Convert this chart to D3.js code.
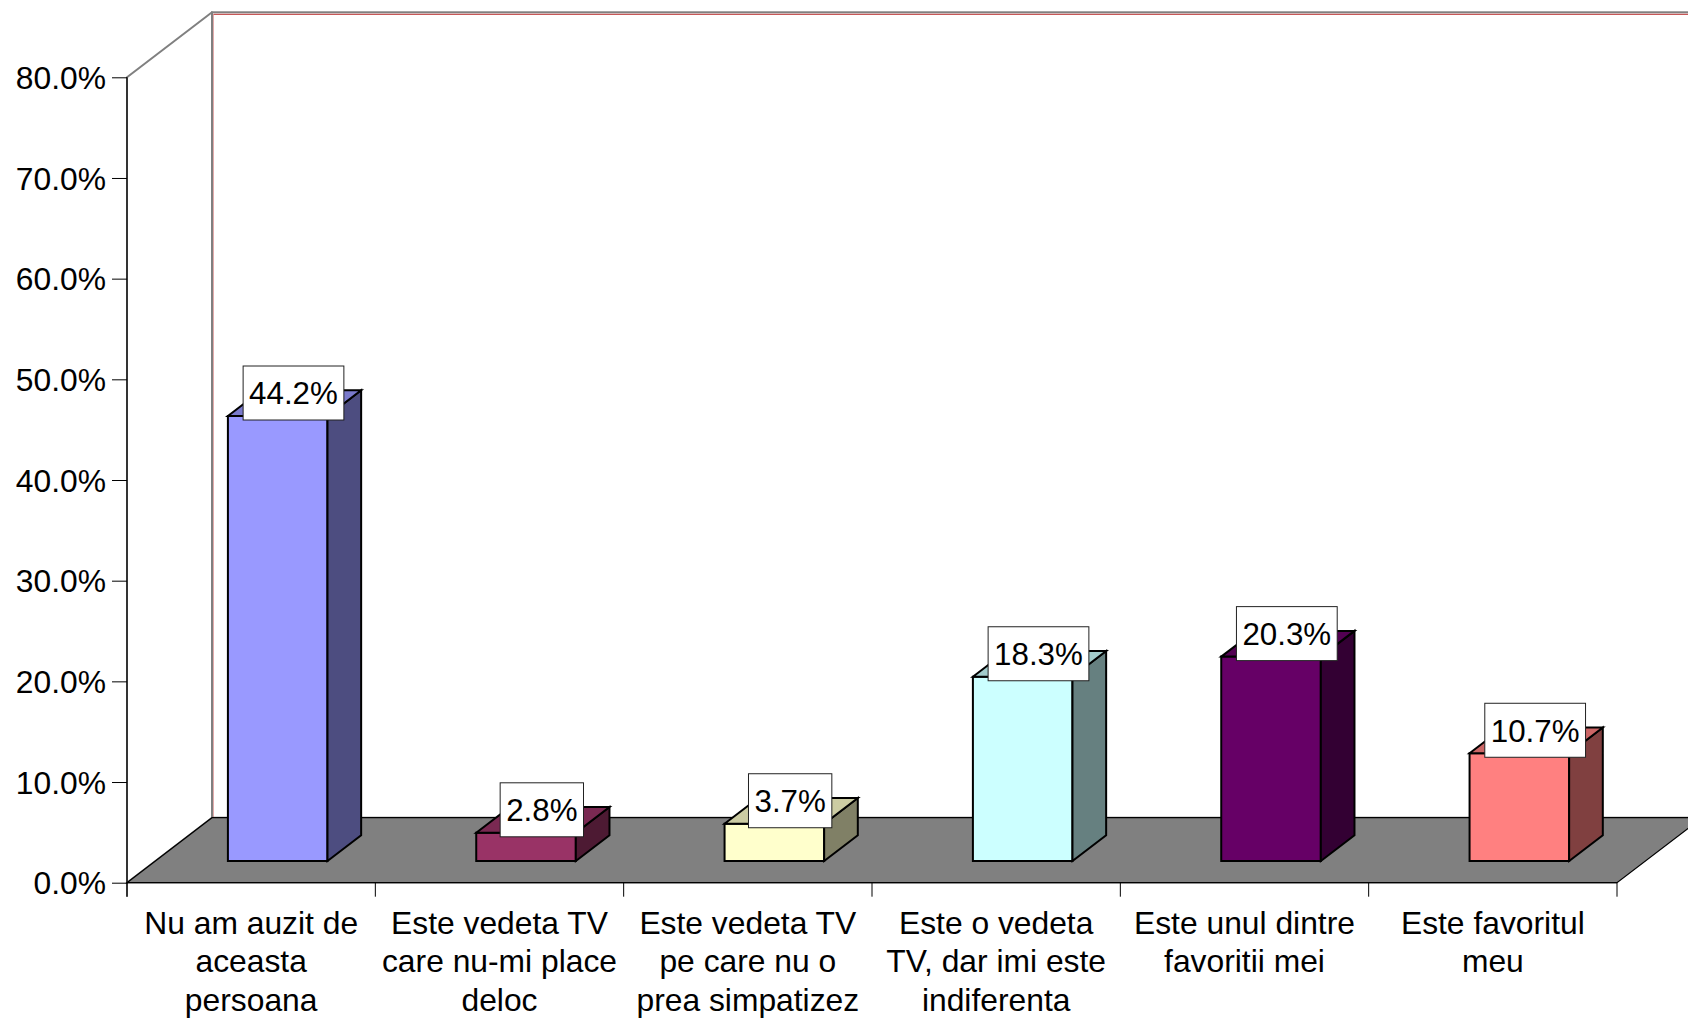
<!DOCTYPE html>
<html>
<head>
<meta charset="utf-8">
<script src="https://cdn.jsdelivr.net/npm/d3@7"></script>
<style>
  html, body { margin: 0; padding: 0; background: #ffffff; }
  svg { display: block; }
  text { font-family: "Liberation Sans", Arial, sans-serif; fill: #000; }
</style>
</head>
<body>
<svg id="chart" width="1688" height="1020"></svg>
<script>
// Survey answers and their shares (percent)
const categories = [
  "Nu am auzit de aceasta persoana",
  "Este vedeta TV care nu-mi place deloc",
  "Este vedeta TV pe care nu o prea simpatizez",
  "Este o vedeta TV, dar imi este indiferenta",
  "Este unul dintre favoritii mei",
  "Este favoritul meu"
];
const categoryLines = [
  ["Nu am auzit de", "aceasta", "persoana"],
  ["Este vedeta TV", "care nu-mi place", "deloc"],
  ["Este vedeta TV", "pe care nu o", "prea simpatizez"],
  ["Este o vedeta", "TV, dar imi este", "indiferenta"],
  ["Este unul dintre", "favoritii mei"],
  ["Este favoritul", "meu"]
];
const values = [44.2, 2.8, 3.7, 18.3, 20.3, 10.7];
const yTicks = [0, 10, 20, 30, 40, 50, 60, 70, 80];
const barColors = ["#9999FF", "#993366", "#FFFFCC", "#CCFFFF", "#660066", "#FF8080"];

const svg = d3.select("#chart");
const AXIS_FONT = 31.8;
const LABEL_FONT = 31.3;

// Front plane of the plot and the oblique depth offset
const X0 = 127, X1 = 1617, Y0 = 882.7, YTOP = 77.3;
const DX = 85, DY = 65;
const P = (px, py, z) => [px + z * DX, py - z * DY];

const x = d3.scaleBand().domain(categories).range([X0, X1]).padding(0);
const y = d3.scaleLinear().domain([0, 80]).range([Y0, YTOP]);
const bw = x.bandwidth();

const poly = pts => "M" + pts.map(p => p[0] + "," + p[1]).join("L") + "Z";

// Back wall
const wallTL = P(X0, YTOP, 1), wallBL = P(X0, Y0, 1);
svg.append("rect")
  .attr("x", wallTL[0]).attr("y", wallTL[1])
  .attr("width", 1700 - wallTL[0]).attr("height", wallBL[1] - wallTL[1])
  .attr("fill", "#fff").attr("stroke", "#808080").attr("stroke-width", 2);
svg.append("line")
  .attr("x1", wallTL[0] + 1.5).attr("x2", wallTL[0] + 1.5)
  .attr("y1", wallTL[1] + 2).attr("y2", wallBL[1])
  .attr("stroke", "#C04545").attr("stroke-width", 1).attr("stroke-opacity", 0.45);
svg.append("line")
  .attr("x1", wallTL[0] + 1.5).attr("x2", 1700)
  .attr("y1", wallTL[1] + 2).attr("y2", wallTL[1] + 2)
  .attr("stroke", "#C04545").attr("stroke-width", 1.2).attr("stroke-opacity", 0.9);

// Side wall
svg.append("path")
  .attr("d", poly([[X0, YTOP], wallTL, wallBL, [X0, Y0]]))
  .attr("fill", "#fff").attr("stroke", "#808080").attr("stroke-width", 2)
  .attr("stroke-linejoin", "round");

// Floor
svg.append("path")
  .attr("d", poly([[X0, Y0], [X1, Y0], P(X1, Y0, 1), P(X0, Y0, 1)]))
  .attr("fill", "#808080").attr("stroke", "#000").attr("stroke-width", 1.2);

// Bars as oblique boxes
const Z0 = 0.334, Z1 = 0.73;
const shade = (c, k) => { const r = d3.rgb(c); return d3.rgb(r.r * k, r.g * k, r.b * k).formatHex(); };

const bars = svg.append("g").selectAll("g")
  .data(categories.map((c, i) => ({ c, v: values[i], color: barColors[i] })))
  .join("g");

bars.each(function (d) {
  const g = d3.select(this);
  const xl = x(d.c) + 0.292 * bw, xr = xl + 0.401 * bw;
  const yb = y(0), yt = y(d.v);
  const face = (pts, fill) => g.append("path").attr("d", poly(pts))
    .attr("fill", fill).attr("stroke", "#000").attr("stroke-width", 2)
    .attr("stroke-linejoin", "miter");
  face([P(xl, yt, Z0), P(xr, yt, Z0), P(xr, yb, Z0), P(xl, yb, Z0)], d.color);
  face([P(xr, yt, Z0), P(xr, yt, Z1), P(xr, yb, Z1), P(xr, yb, Z0)], shade(d.color, 0.5));
  face([P(xl, yt, Z0), P(xl, yt, Z1), P(xr, yt, Z1), P(xr, yt, Z0)], shade(d.color, 0.8));
});

// Value axis
const yAxis = d3.axisLeft(y).tickValues(yTicks).tickSize(15).tickPadding(6)
  .tickFormat(d => d.toFixed(1) + "%");
const yg = svg.append("g").attr("transform", `translate(${X0},0)`).call(yAxis);
yg.select(".domain").remove();
yg.selectAll(".tick line").attr("stroke", "#000");
yg.selectAll(".tick text").attr("font-size", AXIS_FONT)
  .attr("font-family", "'Liberation Sans', Arial, sans-serif").attr("dy", "0.35em");
svg.append("line").attr("x1", X0).attr("x2", X0).attr("y1", YTOP).attr("y2", Y0 + 14)
  .attr("stroke", "#000").attr("stroke-width", 1.2);

// Category axis
svg.append("line").attr("x1", X0).attr("x2", X1).attr("y1", Y0).attr("y2", Y0)
  .attr("stroke", "#000").attr("stroke-width", 1.2);
svg.append("g").selectAll("line")
  .data(categories.map(c => x(c)).concat([x(categories[categories.length - 1]) + bw]))
  .join("line")
  .attr("x1", d => d).attr("x2", d => d)
  .attr("y1", Y0).attr("y2", Y0 + 14)
  .attr("stroke", "#000").attr("stroke-width", 1);

const catG = svg.append("g").selectAll("text")
  .data(categories)
  .join("text")
  .attr("font-size", AXIS_FONT)
  .attr("text-anchor", "middle")
  .attr("x", d => x(d) + bw / 2)
  .attr("y", 933.5);
catG.each(function (d, i) {
  d3.select(this).selectAll("tspan")
    .data(categoryLines[i])
    .join("tspan")
    .attr("x", x(d) + bw / 2)
    .attr("dy", (t, j) => j === 0 ? 0 : 38.5)
    .text(t => t);
});

// Value labels in boxes above each bar
const labels = svg.append("g").selectAll("g")
  .data(categories.map((c, i) => ({ c, v: values[i] })))
  .join("g");
labels.each(function (d) {
  const g = d3.select(this);
  const cx = x(d.c) + 0.4925 * bw + Z0 * DX + 15.8;
  const bottom = P(0, y(d.v), Z0)[1] + 4;
  const h = 54;
  const rect = g.append("rect").attr("fill", "#fff").attr("stroke", "#222").attr("stroke-width", 1);
  const t = g.append("text").attr("font-size", LABEL_FONT).attr("text-anchor", "middle")
    .attr("x", cx).attr("y", bottom - h / 2 + 11.3)
    .text(d.v.toFixed(1) + "%");
  const w = t.node().getComputedTextLength() + 12;
  rect.attr("x", cx - w / 2).attr("y", bottom - h).attr("width", w).attr("height", h);
});
</script>
</body>
</html>
